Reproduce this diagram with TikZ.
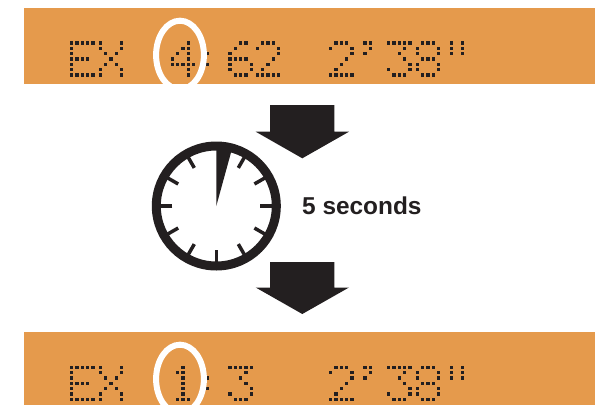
\documentclass[tikz,border=0pt]{standalone}
\usepackage{fontspec}
\setmainfont{Liberation Sans}
\usepackage{xcolor}
\usetikzlibrary{calc}
\definecolor{displayorange}{RGB}{229,154,76}
\definecolor{clockblack}{RGB}{35,31,32}

\newcommand{\glyphE}{0/0,1/0,2/0,3/0,4/0,0/1,0/2,0/3,1/3,2/3,3/3,0/4,0/5,0/6,1/6,2/6,3/6,4/6}
\newcommand{\glyphX}{0/0,4/0,0/1,4/1,1/2,3/2,2/3,1/4,3/4,0/5,4/5,0/6,4/6}
\newcommand{\glyphOne}{2/0,1/1,2/1,2/2,2/3,2/4,2/5,1/6,2/6,3/6}
\newcommand{\glyphTwo}{1/0,2/0,3/0,0/1,4/1,4/2,3/3,2/4,1/5,0/6,1/6,2/6,3/6,4/6}
\newcommand{\glyphThree}{0/0,1/0,2/0,3/0,4/0,3/1,2/2,3/3,4/4,0/5,4/5,1/6,2/6,3/6}
\newcommand{\glyphFour}{3/0,2/1,3/1,1/2,3/2,0/3,3/3,0/4,1/4,2/4,3/4,4/4,3/5,3/6}
\newcommand{\glyphSix}{2/0,3/0,1/1,0/2,0/3,1/3,2/3,3/3,0/4,4/4,0/5,4/5,1/6,2/6,3/6}
\newcommand{\glyphEight}{1/0,2/0,3/0,0/1,4/1,0/2,4/2,1/3,2/3,3/3,0/4,4/4,0/5,4/5,1/6,2/6,3/6}
\newcommand{\glyphColon}{0/2,0/4}
\newcommand{\glyphMin}{0/0,1/0,1/1,0/2}
\newcommand{\glyphSec}{0/0,2/0,0/1,2/1,0/2,2/2}

% x, y of the first dot, then the glyph
\newcommand{\dotglyph}[3]{%
  \foreach \c/\r in #3 {
    \fill[lcddot] ({#1+\c*5.33},{#2+\r*5.33}) rectangle +(3.4,3.4);
  }%
}
% the part that both displays share
\newcommand{\displayline}[1]{%
  \dotglyph{70}{#1}{\glyphE}
  \dotglyph{98.6}{#1}{\glyphX}
  \dotglyph{206}{#1}{\glyphColon}
  \dotglyph{329}{#1}{\glyphTwo}
  \dotglyph{363.3}{#1}{\glyphMin}
  \dotglyph{387}{#1}{\glyphThree}
  \dotglyph{415.6}{#1}{\glyphEight}
  \dotglyph{450}{#1}{\glyphSec}
}

\tikzset{
  lcddot/.style={fill=clockblack},
  bar/.style={fill=displayorange},
  blockarrow/.style={fill=clockblack},
  marker/.style={draw=white,line width=6pt},
  tick/.style={draw=clockblack,line width=3.5pt}
}

\begin{document}
\begin{tikzpicture}[x=1pt,y=-1pt]
    \useasboundingbox (0,0) rectangle (595,405);

    % Displays
    \fill[bar] (24,8) rectangle (595,84);
    \fill[bar] (24,332) rectangle (595,405);

    \displayline{41.3}
    \dotglyph{170.6}{41.3}{\glyphFour}
    \dotglyph{228.3}{41.3}{\glyphSix}
    \dotglyph{255.6}{41.3}{\glyphTwo}

    \displayline{365.6}
    \dotglyph{170.6}{365.6}{\glyphOne}
    \dotglyph{228.3}{365.6}{\glyphThree}

    % Circled digits
    \begin{scope}
      \clip (24,8) rectangle (595,84);
      \draw[marker] (180,55) ellipse (23.9 and 34.3);
    \end{scope}
    \begin{scope}
      \clip (24,332) rectangle (595,405);
      \draw[marker] (180,379) ellipse (23.9 and 34.3);
    \end{scope}

    % Arrows
    \fill[blockarrow] (270,105) -- (334.3,105) -- (334.3,131.7) -- (349,131.7)
      -- (302.3,158.3) -- (255.7,131.7) -- (270,131.7) -- cycle;
    \fill[blockarrow] (270,262) -- (334.3,262) -- (334.3,287.5) -- (349,287.5)
      -- (302.3,314) -- (255.7,287.5) -- (270,287.5) -- cycle;

    % Clock, y runs downwards so 270 is the top
    \coordinate (clockcentre) at (216.3,206);
    \draw[clockblack,line width=9pt] (clockcentre) circle (60);
    \foreach \a in {-60,-30,...,240} {
      \draw[tick] ($(clockcentre)+(\a:44)$) -- ($(clockcentre)+(\a:56)$);
    }
    \fill[clockblack] (clockcentre) -- (216.3,150) -- (231.7,150) -- cycle;

    \node[font=\fontsize{24.4}{24.4}\selectfont\bfseries,text=clockblack,anchor=base west,inner sep=0pt] (waitlabel) at (302,214) {5 seconds};
\end{tikzpicture}
\end{document}
